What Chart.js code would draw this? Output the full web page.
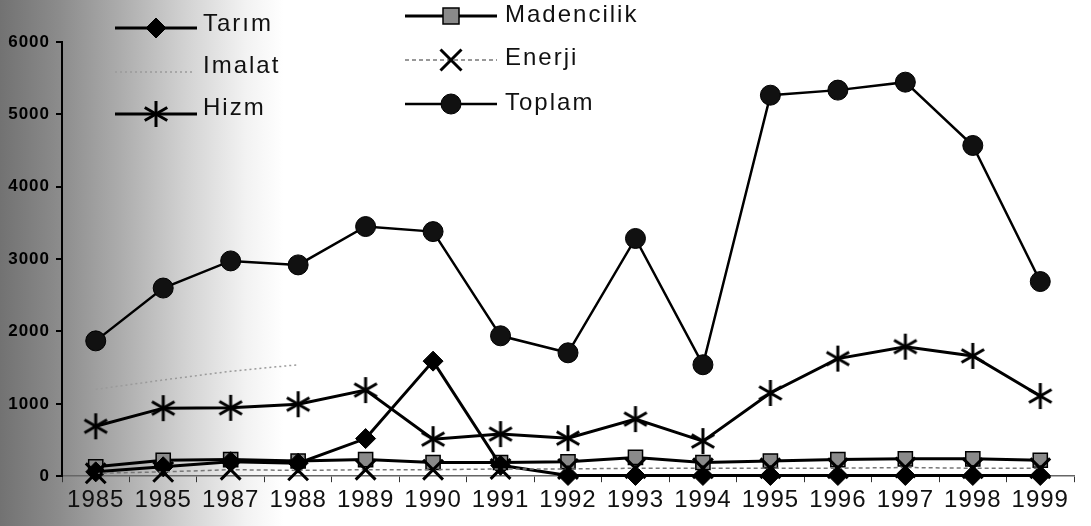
<!DOCTYPE html>
<html>
<head>
<meta charset="utf-8">
<script src="https://cdn.jsdelivr.net/npm/chart.js@4"></script>
<style>
  html, body { margin: 0; padding: 0; background: #fff; }
  canvas { display: block; }
</style>
</head>
<body>
<canvas id="myChart" width="1091" height="526"></canvas>
<script>
// years as printed on the axis (the second one really reads 1985)
const years = ['1985', '1985', '1987', '1988', '1989', '1990', '1991', '1992', '1993', '1994', '1995', '1996', '1997', '1998', '1999'];

const tarim      = [60, 130, 200, 180, 520, 1590, 150, 10, 10, 10, 10, 10, 10, 10, 10];
const imalat     = [1200, 1330, 1450, 1540, null, null, null, null, null, null, null, null, null, null, null];
const hizm       = [690, 940, 945, 995, 1190, 512, 582, 526, 789, 485, 1150, 1625, 1790, 1662, 1108];
const madencilik = [130, 220, 230, 210, 230, 190, 190, 200, 260, 190, 210, 230, 240, 240, 220];
const enerji     = [40, 60, 90, 80, 90, 90, 100, 100, 110, 110, 110, 110, 120, 110, 110];
const toplam     = [1870, 2600, 2975, 2920, 3450, 3380, 1940, 1705, 3285, 1540, 5265, 5335, 5445, 4570, 2690];

const yTicks = [0, 1000, 2000, 3000, 4000, 5000, 6000];

// six armed asterisk for Hizm
function asterisk(size, lw) {
    const c = document.createElement('canvas');
    c.width = size; c.height = size;
    const g = c.getContext('2d');
    const m = size / 2, r = size / 2 - 1;
    g.strokeStyle = '#000';
    g.lineWidth = lw;
    [90, 30, 150].forEach(function (a) {
        const t = a * Math.PI / 180;
        g.beginPath();
        g.moveTo(m - r * Math.cos(t), m + r * Math.sin(t));
        g.lineTo(m + r * Math.cos(t), m - r * Math.sin(t));
        g.stroke();
    });
    return c;
}
const star = asterisk(28, 3);

function marker(ctx, style, r, fill, stroke, lw, x, y) {
    ctx.save();
    ctx.fillStyle = fill;
    ctx.strokeStyle = stroke;
    ctx.lineWidth = lw;
    ctx.setLineDash([]);
    if (style instanceof HTMLCanvasElement) {
        ctx.drawImage(style, x - style.width / 2, y - style.height / 2);
    } else if (style === 'circle') {
        ctx.beginPath(); ctx.arc(x, y, r, 0, Math.PI * 2); ctx.fill(); ctx.stroke();
    } else if (style === 'rectRot') {
        ctx.beginPath(); ctx.moveTo(x, y - r); ctx.lineTo(x + r, y); ctx.lineTo(x, y + r); ctx.lineTo(x - r, y); ctx.closePath();
        ctx.fill(); ctx.stroke();
    } else if (style === 'rect') {
        const s = r * 0.8;
        ctx.fillRect(x - s, y - s, 2 * s, 2 * s); ctx.strokeRect(x - s, y - s, 2 * s, 2 * s);
    } else if (style === 'crossRot') {
        const s = r * 0.75;
        ctx.beginPath(); ctx.moveTo(x - s, y - s); ctx.lineTo(x + s, y + s); ctx.moveTo(x + s, y - s); ctx.lineTo(x - s, y + s); ctx.stroke();
    }
    ctx.restore();
}

// legend in two columns, as in the printed figure
const legendPos = [
    { x1: 115, x2: 197, y: 28, tx: 203, ty: 24 },
    { x1: 115, x2: 192, y: 72, tx: 203, ty: 66 },
    { x1: 115, x2: 197, y: 114, tx: 203, ty: 108 },
    { x1: 405, x2: 497, y: 16, tx: 505, ty: 15 },
    { x1: 405, x2: 497, y: 60, tx: 505, ty: 58 },
    { x1: 405, x2: 497, y: 104, tx: 505, ty: 103 }
];

const paperPlugin = {
    id: 'paper',
    beforeUpdate(chart) { chart.ctx.letterSpacing = '1px'; },
    beforeDraw(chart) {
        const ctx = chart.ctx;
        ctx.letterSpacing = '1px';
        ctx.save();
        const g = ctx.createLinearGradient(0, 0, chart.width, 0);
        g.addColorStop(0, '#727272');
        g.addColorStop(0.055, '#8c8c8c');
        g.addColorStop(0.11, '#acacac');
        g.addColorStop(0.17, '#d2d2d2');
        g.addColorStop(0.225, '#f2f2f2');
        g.addColorStop(0.26, '#ffffff');
        ctx.fillStyle = g;
        ctx.fillRect(0, 0, chart.width, chart.height);
        ctx.restore();
    },
    afterDraw(chart) {
        const ctx = chart.ctx;
        chart.data.datasets.forEach(function (ds, i) {
            const p = legendPos[i];
            ctx.save();
            ctx.strokeStyle = ds.borderColor;
            ctx.lineWidth = ds.borderWidth;
            ctx.setLineDash(ds.borderDash || []);
            ctx.beginPath(); ctx.moveTo(p.x1, p.y); ctx.lineTo(p.x2, p.y); ctx.stroke();
            ctx.restore();
            if (ds.pointRadius > 0) {
                marker(ctx, ds.pointStyle, ds.pointRadius, ds.pointBackgroundColor, ds.pointBorderColor,
                    ds.pointBorderWidth, (p.x1 + p.x2) / 2, p.y);
            }
            ctx.save();
            ctx.letterSpacing = '2px';
            ctx.font = '24px "Liberation Sans", Arial, sans-serif';
            ctx.fillStyle = '#111';
            ctx.textBaseline = 'middle';
            ctx.fillText(ds.label, p.tx, p.ty);
            ctx.restore();
        });
    }
};

var ctx = document.getElementById('myChart').getContext('2d');
var chart = new Chart(ctx, {
    type: 'line',
    data: {
        labels: years,
        datasets: [{
            label: 'Tarım',
            data: tarim, order: 2, clip: false,
            borderColor: '#000', borderWidth: 3,
            pointStyle: 'rectRot', pointRadius: 10,
            pointBackgroundColor: '#000', pointBorderColor: '#000', pointBorderWidth: 1
        }, {
            label: 'Imalat',
            data: imalat, order: 3,
            borderColor: '#9a9a9a', borderWidth: 1.5, borderDash: [2, 3],
            pointRadius: 0,
            pointBackgroundColor: '#aaa', pointBorderColor: '#aaa', pointBorderWidth: 1
        }, {
            label: 'Hizm',
            data: hizm, order: 1,
            borderColor: '#000', borderWidth: 3,
            pointStyle: star, pointRadius: 12,
            pointBackgroundColor: '#000', pointBorderColor: '#000', pointBorderWidth: 1
        }, {
            label: 'Madencilik',
            data: madencilik, order: 4, clip: false,
            borderColor: '#000', borderWidth: 3,
            pointStyle: 'rect', pointRadius: 10,
            pointBackgroundColor: '#8a8a8a', pointBorderColor: '#000', pointBorderWidth: 1.5
        }, {
            label: 'Enerji',
            data: enerji, order: 0, clip: false,
            borderColor: '#777', borderWidth: 1.5, borderDash: [4, 3],
            pointStyle: 'crossRot', pointRadius: 14,
            pointBackgroundColor: '#000', pointBorderColor: '#000', pointBorderWidth: 3
        }, {
            label: 'Toplam',
            data: toplam, order: 1,
            borderColor: '#000', borderWidth: 2.5,
            pointStyle: 'circle', pointRadius: 10,
            pointBackgroundColor: '#111', pointBorderColor: '#000', pointBorderWidth: 1
        }]
    },
    options: {
        responsive: false,
        animation: false,
        devicePixelRatio: 1,
        layout: { padding: { top: 42, right: 0, bottom: 7, left: 0 } },
        plugins: { legend: { display: false }, tooltip: { enabled: false } },
        elements: { line: { tension: 0 } },
        scales: {
            x: {
                offset: true,
                grid: { drawOnChartArea: false, tickLength: 6, color: '#333', offset: true },
                border: { color: '#666', width: 1.5, dash: [2, 3] },
                ticks: {
                    color: '#111', padding: 4, maxRotation: 0, autoSkip: false,
                    font: { family: '"Liberation Sans", Arial, sans-serif', size: 24 }
                }
            },
            y: {
                min: 0, max: 6000,
                afterBuildTicks(scale) { scale.ticks = yTicks.map(v => ({ value: v })); },
                afterFit(scale) { scale.width = 62; },
                grid: { drawOnChartArea: false, tickLength: 6, color: '#000', lineWidth: 2 },
                border: { color: '#000', width: 2 },
                ticks: {
                    color: '#000', padding: 6,
                    callback: v => String(v),
                    font: { family: '"Liberation Sans", Arial, sans-serif', size: 17, weight: 'bold' }
                }
            }
        }
    },
    plugins: [paperPlugin]
});
</script>
</body>
</html>
